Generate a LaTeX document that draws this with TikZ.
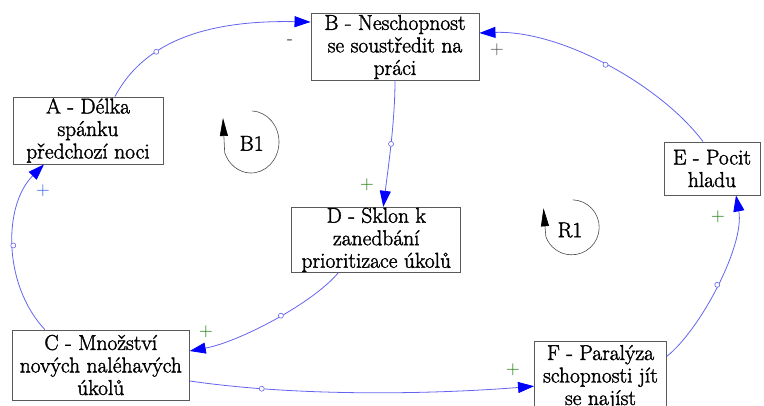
\documentclass[tikz,border=0pt]{standalone}
\usepackage{fontspec}
\newfontfamily\boxfont{Latin Modern Roman}[FakeBold=1.7]
\newfontfamily\polfont{Latin Modern Roman}
\usetikzlibrary{arrows.meta}
\definecolor{linkblue}{RGB}{100,100,240}
\definecolor{headblue}{RGB}{0,0,255}
\definecolor{boxgray}{RGB}{90,90,90}
\definecolor{polgreen}{RGB}{20,120,0}
\definecolor{polblue}{RGB}{40,90,230}
\definecolor{polgray}{RGB}{70,70,70}
\tikzset{
  var/.style={draw=boxgray, line width=0.9pt, align=center, inner sep=0pt,
    fill=white, font=\boxfont\fontsize{21.5}{22.5}\selectfont},
  link/.style={draw=linkblue, line width=0.8pt,
    -{Triangle[length=16pt,width=11pt,color=headblue]}},
  handle/.style={circle, draw=linkblue, fill=white, line width=0.6pt,
    minimum size=5pt, inner sep=0pt},
  pol/.style={font=\polfont\fontsize{19}{19}\selectfont, inner sep=0pt},
  loopname/.style={font=\boxfont\fontsize{21.5}{21.5}\selectfont, inner sep=0pt},
  looparc/.style={draw=black!70, line width=0.6pt,
    -{Triangle[length=18pt,width=8pt,color=black]}}
}
\begin{document}
\begin{tikzpicture}[x=1pt,y=1pt]
  \useasboundingbox (0,0) rectangle (764,405);
  \fill[white] (0,0) rectangle (764,405);

  % variables
  \node[var, minimum width=150pt, minimum height=67pt] (A) at (88,274.5)
    {A - Délka\\spánku\\předchozí noci};
  \node[var, minimum width=168pt, minimum height=67pt] (B) at (395,358)
    {B - Neschopnost\\se soustředit na\\práci};
  \node[var, minimum width=169pt, minimum height=65pt] (D) at (376.3,165.2)
    {D - Sklon k\\zanedbání\\prioritizace úkolů};
  \node[var, minimum width=96pt, minimum height=53pt] (E) at (712,236.5)
    {E - Pocit\\hladu};
  \node[var, minimum width=177pt, minimum height=70pt] (C) at (100.8,40)
    {C - Množství\\nových naléhavých\\úkolů};
  \node[var, minimum width=132pt, minimum height=71pt] (F) at (600.5,27.8)
    {F - Paralýza\\schopnosti jít\\se najíst};

  % causal links
  \draw[link] ([xshift=27pt]A.north) .. controls +(30,57) and +(-100,2) ..
    ([yshift=25pt]B.west) node[handle, pos=0.33] (hAB) {};
  \draw[link] (B.south) .. controls +(0,-40) and +(5,40) ..
    ([xshift=7pt]D.north) node[handle, pos=0.5] (hBD) {};
  \draw[link] ([xshift=-38pt]D.south) .. controls +(-26,-31) and +(49,9) ..
    ([yshift=14pt]C.east) node[handle, pos=0.45] (hDC) {};
  \draw[link] ([xshift=-56pt]C.north) .. controls +(-42,45) and +(-41,-41) ..
    ([xshift=-44pt]A.south) node[handle, pos=0.5] (hCA) {};
  \draw[link] ([yshift=-16pt]C.east) .. controls +(110,-16) and +(-100,-8) ..
    ([yshift=-9pt]F.west) node[handle, pos=0.21] (hCF) {};
  \draw[link] ([yshift=21pt]F.east) .. controls +(33,26) and +(9,-50) ..
    ([xshift=24pt]E.south) node[handle, pos=0.5] (hFE) {};
  \draw[link] ([xshift=-9pt]E.north) .. controls +(-43,57) and +(81,3) ..
    ([yshift=14pt]B.east) node[handle, pos=0.5] (hEB) {};

  % polarities
  \node[pol] (pAB) at (290,363) {-};
  \node[pol, text=polgreen] (pBD) at (367,220) {+};
  \node[pol, text=polgreen] (pDC) at (206,73) {+};
  \node[pol, text=polblue] (pCA) at (43,214) {+};
  \node[pol, text=polgreen] (pCF) at (513,35) {+};
  \node[pol, text=polgreen] (pFE) at (718,188) {+};
  \node[pol, text=polgray] (pEB) at (497,355) {+};

  % loop markers
  \coordinate (b1c) at (251,263);
  \coordinate (b1tip) at (223,287);
  \draw[looparc] ([shift={(88:28pt and 31pt)}]b1c)
    arc[start angle=88, end angle=-160, x radius=28pt, y radius=31pt] -- (b1tip);
  \node[loopname] (B1) at (251.7,261.7) {B1};

  \coordinate (r1c) at (571.7,177.7);
  \coordinate (r1tip) at (543.5,196.7);
  \draw[looparc] ([shift={(88:27.5pt and 27.5pt)}]r1c)
    arc[start angle=88, end angle=-160, x radius=27.5pt, y radius=27.5pt] -- (r1tip);
  \node[loopname] (R1) at (570,175) {R1};
\end{tikzpicture}
\end{document}
